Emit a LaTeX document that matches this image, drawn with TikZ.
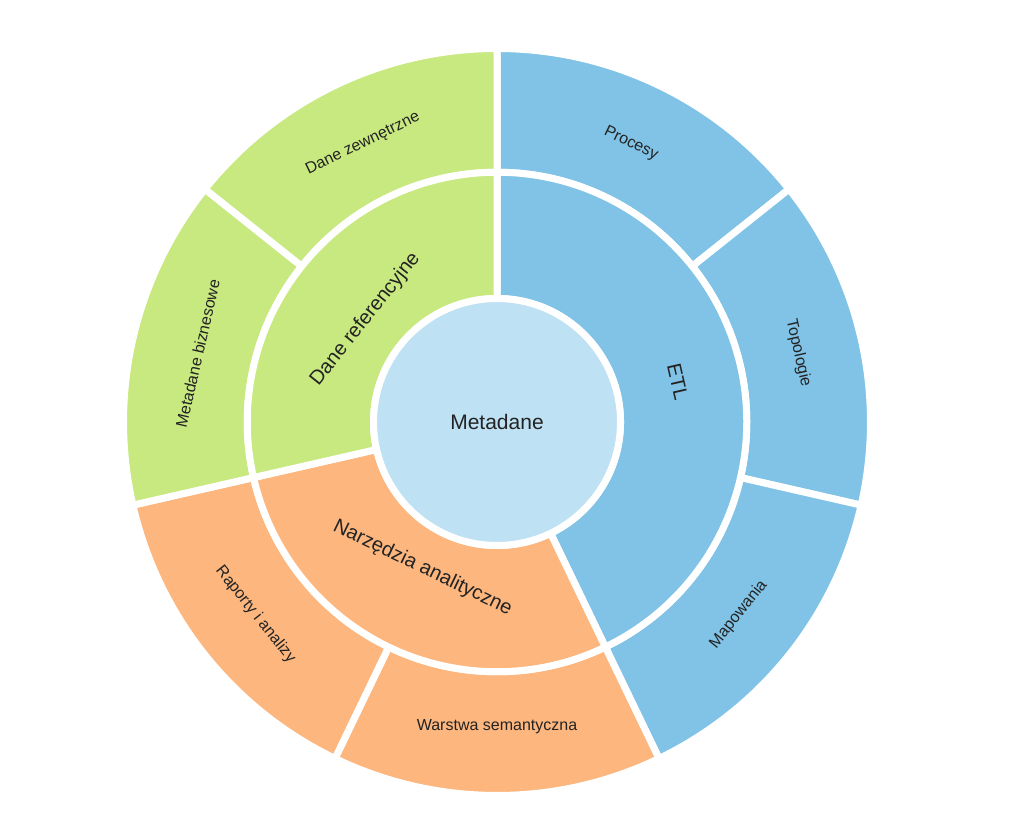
\documentclass[tikz,border=0pt]{standalone}
\usepackage{fontspec}
\setmainfont{Liberation Sans}
\definecolor{refgreen}{RGB}{200,232,128}
\definecolor{refblue}{RGB}{128,195,230}
\definecolor{reforange}{RGB}{252,182,126}
\definecolor{refcore}{RGB}{190,225,243}
\definecolor{labeltext}{RGB}{35,35,35}
\tikzset{
  ring part/.style={fill=#1, draw=white, line width=7pt, line join=round},
  ring part/.default=refblue,
  leaf label/.style={font=\fontsize{16}{19}\selectfont, text=labeltext, inner sep=0pt},
  branch label/.style={font=\fontsize{20}{24}\selectfont, text=labeltext, inner sep=0pt},
}
% colour, inner radius, outer radius, start angle, end angle
\newcommand{\ringpart}[5]{%
  \filldraw[ring part=#1] (#4:#2) -- (#4:#3) arc[start angle=#4, end angle=#5, radius=#3]
    -- (#5:#2) arc[start angle=#5, end angle=#4, radius=#2] -- cycle;}

\begin{document}
\begin{tikzpicture}[x=1pt,y=1pt]
  \useasboundingbox (0,0) rectangle (1024,822);
  \begin{scope}[shift={(497,400)}]
    % Outer ring
    \ringpart{refblue}{249.75}{373.5}{90}{38.57}
    \ringpart{refblue}{249.75}{373.5}{38.57}{-12.86}
    \ringpart{refblue}{249.75}{373.5}{-12.86}{-64.29}
    \ringpart{reforange}{249.75}{373.5}{-64.29}{-115.71}
    \ringpart{reforange}{249.75}{373.5}{-115.71}{-167.14}
    \ringpart{refgreen}{249.75}{373.5}{192.86}{141.43}
    \ringpart{refgreen}{249.75}{373.5}{141.43}{90}

    % Middle ring
    \ringpart{refblue}{123.5}{249.75}{90}{-64.29}
    \ringpart{reforange}{123.5}{249.75}{-64.29}{-167.14}
    \ringpart{refgreen}{123.5}{249.75}{192.86}{90}

    % Core
    \filldraw[fill=refcore, draw=white, line width=7pt] (0,0) circle[radius=123.5];
    \node[branch label, font=\fontsize{21}{25}\selectfont] (metadane) at (0,0) {Metadane};

    % Middle labels
    \node[branch label, rotate=-77.14] (etl) at (12.5:185) {ETL};
    \node[branch label, rotate=-25.71] (narzedzia) at (-117:164) {Narzędzia analityczne};
    \node[branch label, rotate=51.43] (daneref) at (142:167) {Dane referencyjne};

    % Outer labels
    \node[leaf label, rotate=-25.71] (procesy) at (64.29:309) {Procesy};
    \node[leaf label, rotate=-77.14] (topologie) at (12.86:309) {Topologie};
    \node[leaf label, rotate=51.43] (mapowania) at (-38.57:309) {Mapowania};
    \node[leaf label, rotate=0] (warstwa) at (-90:305) {Warstwa semantyczna};
    \node[leaf label, rotate=-51.43] (raporty) at (-141.43:309) {Raporty i analizy};
    \node[leaf label, rotate=77.14] (metabiz) at (167.14:307) {Metadane biznesowe};
    \node[leaf label, rotate=25.71] (danezew) at (115.71:309) {Dane zewnętrzne};
  \end{scope}
\end{tikzpicture}
\end{document}
